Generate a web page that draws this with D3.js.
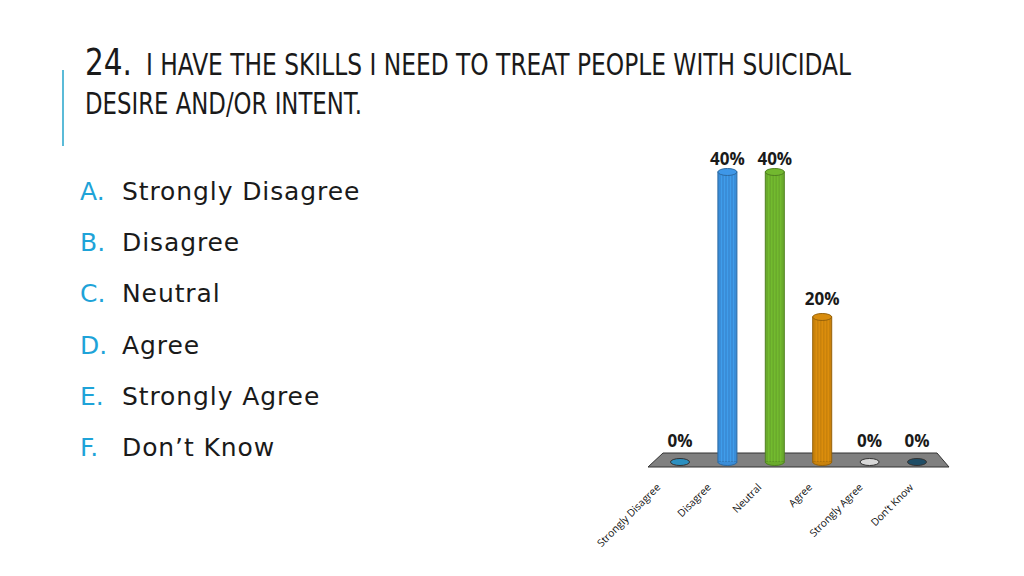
<!DOCTYPE html>
<html><head><meta charset="utf-8">
<script src="https://cdn.jsdelivr.net/npm/d3@7"></script>
<style>html,body{margin:0;padding:0;background:#fff;}</style>
</head><body>
<svg id="c" width="1024" height="576"></svg>
<script>
const titleNum = "24.";
const titleLine1 = "I HAVE THE SKILLS I NEED TO TREAT PEOPLE WITH SUICIDAL";
const titleLine2 = "DESIRE AND/OR INTENT.";
const optionLetters = ["A.","B.","C.","D.","E.","F."];
const categories = ["Strongly Disagree","Disagree","Neutral","Agree","Strongly Agree","Don\u2019t Know"];
const values = [0, 40, 40, 20, 0, 0];
const colors = ["#2b8fc0","#3a8dd8","#6aab2c","#c9820c","#d8d8d8","#1f4d66"];

const svg = d3.select("#c");

// accent line
svg.append("line").attr("x1",63).attr("x2",63).attr("y1",70).attr("y2",146)
  .attr("stroke","#5bbbd8").attr("stroke-width",2);

const tf = "'Liberation Sans Narrow','DejaVu Sans Condensed','Roboto',sans-serif";
svg.append("text").attr("x",85).attr("y",75).attr("font-family",tf).attr("font-size",38)
  .attr("fill","#1a1a1a").attr("textLength",47).attr("lengthAdjust","spacingAndGlyphs").text(titleNum);
svg.append("text").attr("x",146).attr("y",75).attr("font-family",tf).attr("font-size",31)
  .attr("fill","#1a1a1a").attr("textLength",705).attr("lengthAdjust","spacingAndGlyphs").text(titleLine1);
svg.append("text").attr("x",85).attr("y",114).attr("font-family",tf).attr("font-size",31)
  .attr("fill","#1a1a1a").attr("textLength",277).attr("lengthAdjust","spacingAndGlyphs").text(titleLine2);

// option list
const listY = d3.scalePoint().domain(d3.range(categories.length)).range([200,456]);
const lf = "'DejaVu Sans',sans-serif";
const list = svg.append("g");
categories.forEach((c,i)=>{
  list.append("text").attr("x",80).attr("y",listY(i)).attr("font-family",lf).attr("font-size",25)
    .attr("fill","#1ea3d8").text(optionLetters[i]);
  list.append("text").attr("x",122).attr("y",listY(i)).attr("font-family",lf).attr("font-size",25)
    .attr("letter-spacing",0.9).attr("fill","#1a1a1a").text(c);
});

// chart
const x = d3.scalePoint().domain(categories).range([680,917]);
const xl = d3.scalePoint().domain(categories).range([661,914]);
const y = d3.scaleLinear().domain([0,40]).range([462,172]);
const bw = 19;
const ry = 3.5;

// floor
const floor = [[663,453],[937,453],[949,467],[648,467]];
svg.append("path").attr("d","M"+floor.map(p=>p.join(",")).join("L")+"Z")
  .attr("fill","#808080").attr("stroke","#333").attr("stroke-width",1);

const g = svg.append("g");
categories.forEach((c,i)=>{
  const cx = x(c), top = y(values[i]), base = y(0);
  const col = colors[i];
  const dark = d3.color(col).darker(0.8);
  if (values[i] > 0) {
    g.append("rect").attr("x",cx-bw/2).attr("y",top).attr("width",bw).attr("height",base-top)
      .attr("fill",col).attr("stroke",dark).attr("stroke-width",1);
    d3.range(-6,7,3).forEach(o=>{
      g.append("line").attr("x1",cx+o).attr("x2",cx+o).attr("y1",top+2).attr("y2",base)
        .attr("stroke",d3.color(col).brighter(0.6)).attr("stroke-width",0.7).attr("opacity",0.8);
    });
    g.append("path").attr("d",`M${cx-bw/2},${base} A${bw/2},${ry} 0 0 0 ${cx+bw/2},${base}`)
      .attr("fill",col).attr("stroke",dark).attr("stroke-width",1);
    g.append("ellipse").attr("cx",cx).attr("cy",top).attr("rx",bw/2).attr("ry",ry)
      .attr("fill",d3.color(col).brighter(0.2)).attr("stroke",dark).attr("stroke-width",1);
  } else {
    g.append("ellipse").attr("cx",cx).attr("cy",base).attr("rx",bw/2).attr("ry",ry)
      .attr("fill",col).attr("stroke","#333").attr("stroke-width",1);
  }
  g.append("text").attr("x",cx).attr("y",top-(values[i]>0?(values[i]>=40?7:12):15)).attr("text-anchor","middle")
    .attr("font-family","'Open Sans',sans-serif").attr("font-weight","bold").attr("font-size",17)
    .attr("fill","#1a1a1a").text(values[i]+"%");
});

// x labels
categories.forEach(c=>{
  svg.append("text").attr("transform",`translate(${xl(c)},488) rotate(-45)`)
    .attr("text-anchor","end").attr("font-family","'Open Sans',sans-serif").attr("font-size",10.3)
    .attr("fill","#111").text(c);
});
</script>
</body></html>
